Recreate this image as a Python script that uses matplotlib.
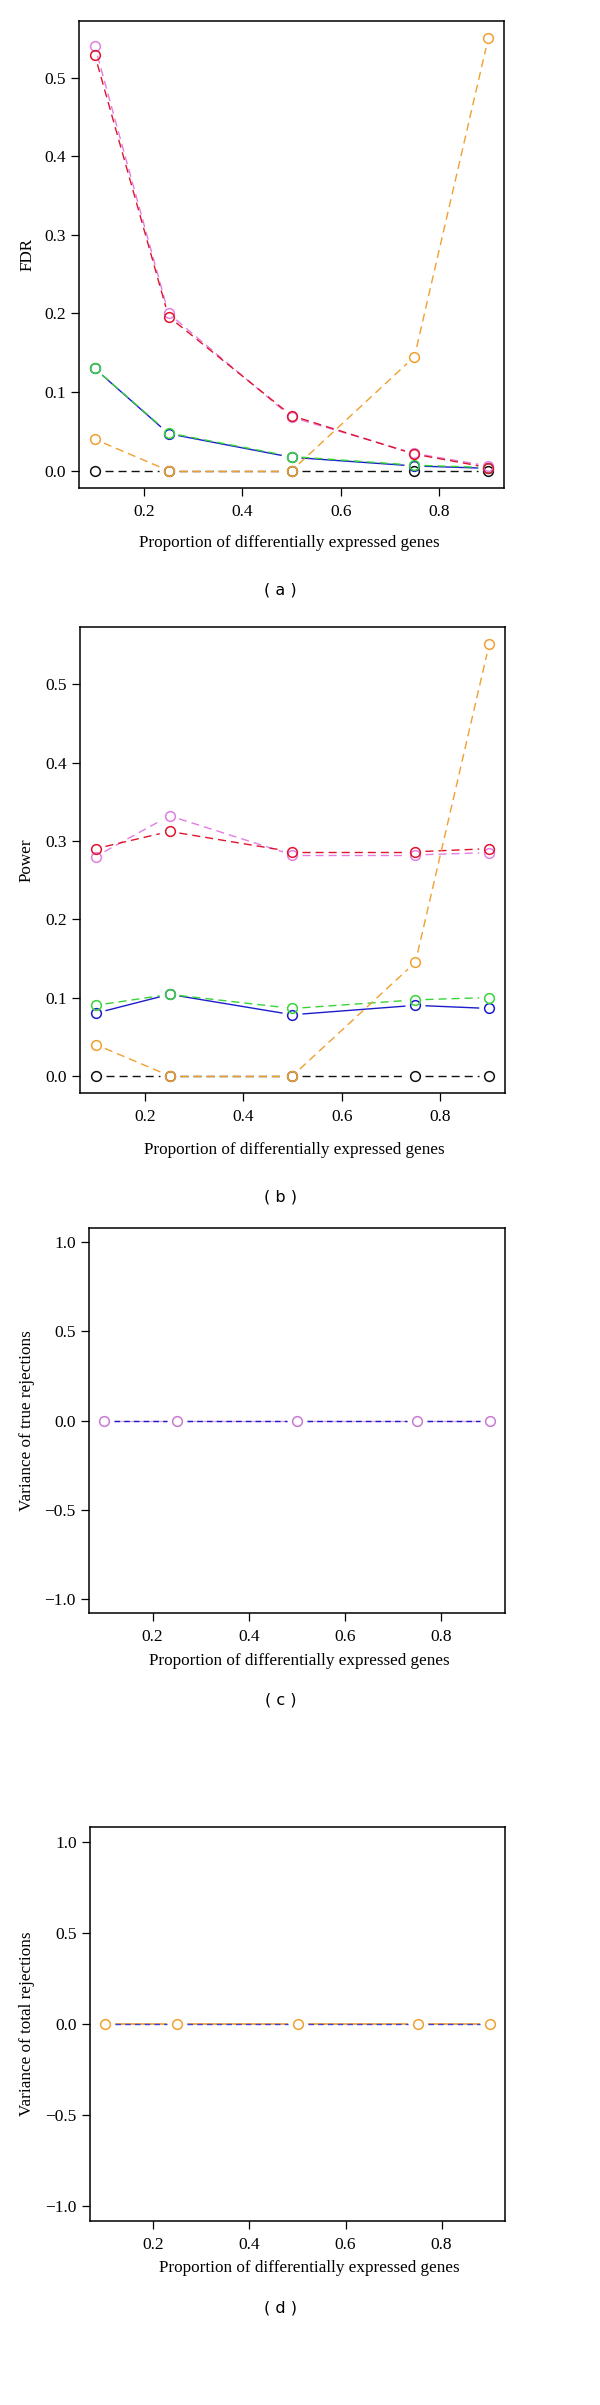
import numpy as np
import matplotlib

matplotlib.use("Agg")
import matplotlib.pyplot as plt

plt.rcParams["font.family"] = ["Liberation Serif", "DejaVu Serif"]
plt.rcParams["lines.scale_dashes"] = False

### Data ###
prop_de = [0.1, 0.25, 0.5, 0.75, 0.9]

# FDR by method
fdr_black = [0.0, 0.0, 0.0, 0.0, 0.0]
fdr_blue = [0.130, 0.047, 0.017, 0.006, 0.003]
fdr_green = [0.130, 0.048, 0.018, 0.007, 0.004]
fdr_violet = [0.540, 0.200, 0.068, 0.022, 0.006]
fdr_red = [0.529, 0.196, 0.070, 0.021, 0.004]
fdr_orange = [0.040, 0.0, 0.0, 0.145, 0.550]

# Power by method
pow_black = [0.0, 0.0, 0.0, 0.0, 0.0]
pow_blue = [0.080, 0.104, 0.078, 0.090, 0.086]
pow_green = [0.090, 0.104, 0.086, 0.097, 0.100]
pow_violet = [0.280, 0.332, 0.282, 0.282, 0.285]
pow_red = [0.290, 0.312, 0.286, 0.286, 0.290]
pow_orange = [0.040, 0.0, 0.0, 0.145, 0.551]

# variances (all methods identical)
var_true = [0.0, 0.0, 0.0, 0.0, 0.0]
var_total = [0.0, 0.0, 0.0, 0.0, 0.0]

xlab = "Proportion of differentially expressed genes"

BLACK = "#111111"
BLUE = "#1c1ccc"
GREEN = "#38d438"
VIOLET = "#e27ee2"
RED = "#e0142c"
ORANGE = "#f0a030"
DASH = (5.8, 3.6)
GAP = 10  # px gap around each point, like R type="b"


def gapped(ax, xs, ys, color, dashed=True, lw=1.0, dashes=DASH, z=2):
    # draw segments between points leaving a gap around each marker
    pts = ax.transData.transform(np.column_stack([xs, ys]))
    inv = ax.transData.inverted()
    for p0, p1 in zip(pts[:-1], pts[1:]):
        d = p1 - p0
        L = np.hypot(*d)
        if L <= 2 * GAP:
            continue
        u = d / L
        seg = inv.transform(np.array([p0 + u * GAP, p1 - u * GAP]))
        (ln,) = ax.plot(seg[:, 0], seg[:, 1], color=color, lw=lw, zorder=z,
                        solid_capstyle="butt", dash_capstyle="butt")
        if dashed:
            ln.set_dashes(dashes)


def points(ax, xs, ys, color, z=3):
    ax.plot(xs, ys, ls="none", marker="o", ms=7, mfc="none", mec=color,
            mew=1.1, zorder=z)


def style(ax, ylim, yticks, ylabel, ylab_x, xlab_pos):
    ax.set_xlim(0.068, 0.932)
    ax.set_ylim(*ylim)
    ax.set_xticks([0.2, 0.4, 0.6, 0.8])
    ax.set_yticks(yticks)
    ax.set_xticklabels(["0.2", "0.4", "0.6", "0.8"])
    ax.set_yticklabels([f"{v:.1f}".replace("-", "\u2212") for v in yticks])
    ax.tick_params(direction="out", length=5.5, width=0.9, labelsize=12.5,
                   top=False, right=False)
    ax.tick_params(axis="x", pad=6)
    ax.tick_params(axis="y", pad=4)
    for s in ax.spines.values():
        s.set_linewidth(1.1)
    ax.set_ylabel(ylabel, fontsize=12.3)
    ax.yaxis.set_label_coords(ylab_x, 0.5)
    ax.yaxis.label.set_va("center")
    ax.set_xlabel(xlab, fontsize=12.3)
    ax.xaxis.set_label_coords(*xlab_pos)
    ax.xaxis.label.set_va("center")


fig = plt.figure(figsize=(6, 24.05), dpi=100)

ax_a = fig.add_axes([0.1317, 0.7971, 0.7083, 0.1942])
ax_b = fig.add_axes([0.1333, 0.5455, 0.7083, 0.1938])
ax_c = fig.add_axes([0.1483, 0.3293, 0.6933, 0.1601])
ax_d = fig.add_axes([0.1500, 0.0765, 0.6917, 0.1638])

style(ax_a, (-0.022, 0.572), [0.0, 0.1, 0.2, 0.3, 0.4, 0.5], "FDR",
      -0.122, (0.496, -0.117))
style(ax_b, (-0.022, 0.573), [0.0, 0.1, 0.2, 0.3, 0.4, 0.5], "Power",
      -0.125, (0.504, -0.122))
style(ax_c, (-1.08, 1.08), [-1.0, -0.5, 0.0, 0.5, 1.0],
      "Variance of true rejections", -0.149, (0.505, -0.125))
style(ax_d, (-1.08, 1.08), [-1.0, -0.5, 0.0, 0.5, 1.0],
      "Variance of total rejections", -0.152, (0.528, -0.120))

# (a) FDR and (b) Power
for ax, series in [
    (ax_a, [fdr_black, fdr_blue, fdr_green, fdr_violet, fdr_red, fdr_orange]),
    (ax_b, [pow_black, pow_blue, pow_green, pow_violet, pow_red, pow_orange]),
]:
    cols = [BLACK, BLUE, GREEN, VIOLET, RED, ORANGE]
    dashed = [True, False, True, True, True, True]
    for i, (ys, c, dsh) in enumerate(zip(series, cols, dashed)):
        gapped(ax, prop_de, ys, c, dashed=dsh, z=2 + i * 0.1)
        points(ax, prop_de, ys, c, z=3 + i * 0.1)

# (c) variance of true rejections
gapped(ax_c, prop_de, var_true, "#dca6dc", dashed=False, lw=1.0)
gapped(ax_c, prop_de, var_true, BLUE, dashed=True, lw=1.0, dashes=(4.0, 3.0), z=2.5)
points(ax_c, prop_de, var_true, "#c97ad2")

# (d) variance of total rejections
gapped(ax_d, prop_de, var_total, ORANGE, dashed=False, lw=1.2)
gapped(ax_d, prop_de, var_total, "#4040d8", dashed=True, lw=1.0, dashes=(4.0, 3.0), z=2.5)
points(ax_d, prop_de, var_total, ORANGE)

for lbl, y in [("a", 0.7547), ("b", 0.5023), ("c", 0.2931), ("d", 0.0403)]:
    fig.text(0.468, y, f"( {lbl} )", family="DejaVu Sans", fontsize=11.5,
             ha="center", va="center")

fig.savefig("out.png", dpi=100)
